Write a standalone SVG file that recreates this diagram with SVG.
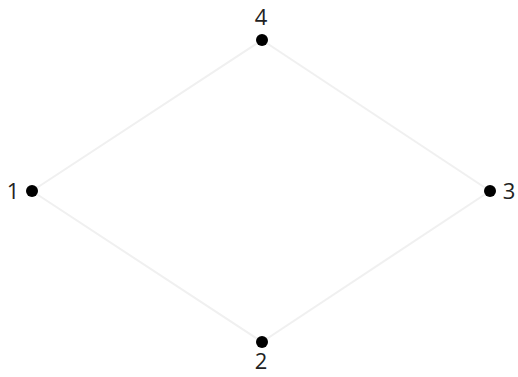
<svg xmlns="http://www.w3.org/2000/svg" width="518" height="377" viewBox="0 0 518 377">
<style>
.edge{stroke:#f0f0f0;stroke-width:2;fill:none}
.dot{fill:#000}
.lbl{font-family:"Open Sans","Liberation Sans",sans-serif;font-size:22px;fill:#222}
</style>
<rect width="518" height="377" fill="#fff"/>
<g id="connectors">
<line class="edge" x1="32" y1="191" x2="262" y2="40"/>
<line class="edge" x1="262" y1="40" x2="490" y2="191"/>
<line class="edge" x1="490" y1="191" x2="262" y2="342"/>
<line class="edge" x1="262" y1="342" x2="32" y2="191"/>
</g>
<g id="n1"><circle class="dot" cx="32" cy="191" r="6"/><text class="lbl" x="13" y="199" text-anchor="middle">1</text></g>
<g id="n4"><circle class="dot" cx="262" cy="40" r="6"/><text class="lbl" x="261" y="25" text-anchor="middle">4</text></g>
<g id="n3"><circle class="dot" cx="490" cy="191" r="6"/><text class="lbl" x="509" y="199" text-anchor="middle">3</text></g>
<g id="n2"><circle class="dot" cx="262" cy="342" r="6"/><text class="lbl" x="261" y="369" text-anchor="middle">2</text></g>
</svg>
